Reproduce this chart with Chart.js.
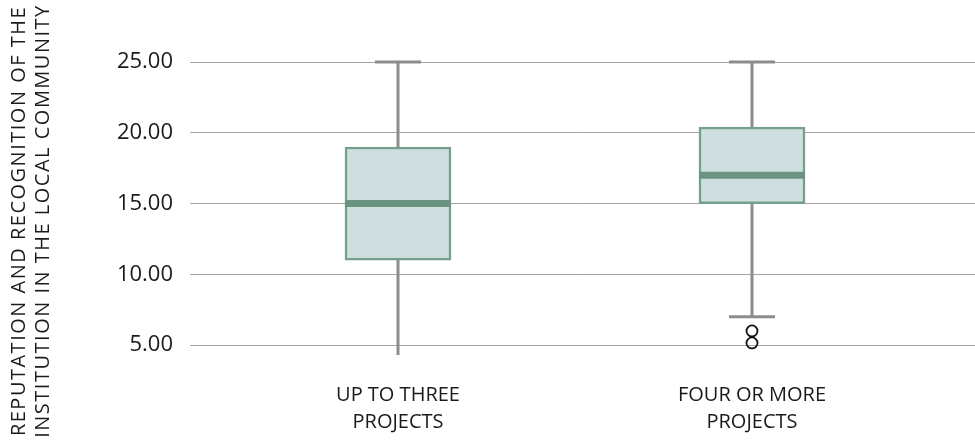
<!DOCTYPE html>
<html>
<head>
<meta charset="utf-8">
<script src="https://cdn.jsdelivr.net/npm/chart.js@4.4.0/dist/chart.umd.min.js"></script>
<style>
  html, body { margin: 0; padding: 0; background: #fff; overflow: hidden; }
  canvas { display: block; }
</style>
</head>
<body>
<canvas id="chartBox" width="975" height="442"></canvas>
<script>
const groups = [['UP TO THREE', 'PROJECTS'], ['FOUR OR MORE', 'PROJECTS']]
const positions = [1, 2]
const mins = [4, 7]
const q1s = [11, 15]
const medians = [15, 17]
const q3s = [19, 20.4]
const maxs = [25, 25]
const outliers = [[], [6, 5.15]]
const yTicks = [5, 10, 15, 20, 25]
const yTitle = ['REPUTATION AND RECOGNITION OF THE', 'INSTITUTION IN THE LOCAL COMMUNITY']

const font = "'Open Sans', sans-serif"

const boxData = positions.map((p, i) => ({ x: p, y: [q1s[i], q3s[i]] }))
const outlierData = []
positions.forEach((p, i) => outliers[i].forEach(v => outlierData.push({ x: p, y: v })))

// whiskers + caps behind the boxes, medians on top
const boxExtras = {
    id: 'boxExtras',
    beforeDatasetsDraw(chart) {
        const ctx = chart.ctx, xs = chart.scales.x, ys = chart.scales.y, a = chart.chartArea
        ctx.save()
        ctx.beginPath()
        ctx.rect(a.left, a.top, a.right - a.left, a.bottom - a.top)
        ctx.clip()
        ctx.strokeStyle = '#8c8c8c'
        ctx.lineWidth = 3
        positions.forEach((p, i) => {
            const x = xs.getPixelForValue(p)
            ctx.beginPath()
            ctx.moveTo(x, ys.getPixelForValue(mins[i]))
            ctx.lineTo(x, ys.getPixelForValue(maxs[i]))
            ctx.stroke()
            ;[mins[i], maxs[i]].forEach(v => {
                const y = ys.getPixelForValue(v)
                ctx.beginPath()
                ctx.moveTo(x - 23, y)
                ctx.lineTo(x + 23, y)
                ctx.stroke()
            })
        })
        ctx.restore()
    },
    afterDatasetsDraw(chart) {
        const ctx = chart.ctx, xs = chart.scales.x, ys = chart.scales.y
        const meta = chart.getDatasetMeta(0)
        ctx.save()
        ctx.strokeStyle = '#6a9480'
        ctx.lineWidth = 7
        positions.forEach((p, i) => {
            const bar = meta.data[i]
            const half = bar.width / 2
            const x = xs.getPixelForValue(p)
            const y = ys.getPixelForValue(medians[i])
            ctx.beginPath()
            ctx.moveTo(x - half, y)
            ctx.lineTo(x + half, y)
            ctx.stroke()
        })
        ctx.restore()
    },
    afterDraw(chart) {
        const ctx = chart.ctx
        ctx.save()
        ctx.translate(0, 221)
        ctx.rotate(-Math.PI / 2)
        ctx.fillStyle = '#1a1a1a'
        ctx.font = '20px ' + font
        ctx.letterSpacing = '1.5px'
        ctx.textAlign = 'center'
        ctx.textBaseline = 'middle'
        ctx.fillText(yTitle[0], 0, 19)
        ctx.fillText(yTitle[1], 0, 43)
        ctx.restore()
    }
}

new Chart(document.getElementById('chartBox'), {
    type: 'bar',
    data: {
        datasets: [{
            type: 'bar',
            data: boxData,
            backgroundColor: '#cfdfdf',
            borderColor: '#73a08d',
            borderWidth: 2.5,
            borderSkipped: false,
            barThickness: 106
        }, {
            type: 'scatter',
            data: outlierData,
            pointRadius: 5.5,
            pointBackgroundColor: 'rgba(0,0,0,0)',
            pointBorderColor: '#111',
            pointBorderWidth: 1.8
        }]
    },
    options: {
        responsive: false,
        animation: false,
        layout: { autoPadding: false, padding: { top: 55, right: 0, left: 0, bottom: 0 } },
        plugins: { legend: { display: false }, tooltip: { enabled: false } },
        scales: {
            x: {
                type: 'linear',
                offset: false,
                min: 0.4124,
                max: 2.63,
                grid: { display: false },
                border: { display: false },
                afterBuildTicks: s => { s.ticks = positions.map(v => ({ value: v })) },
                afterFit: s => { s.height = 87; s.paddingLeft = 0; s.paddingRight = 0 },
                ticks: {
                    padding: 19,
                    color: '#1a1a1a',
                    font: { family: font, size: 20, lineHeight: 1.35 },
                    callback: v => groups[positions.indexOf(v)]
                }
            },
            y: {
                min: 4.3,
                max: 25.5,
                afterBuildTicks: s => { s.ticks = yTicks.map(v => ({ value: v })) },
                afterFit: s => { s.width = 190 },
                grid: { color: '#a3a3a3', lineWidth: 1, drawTicks: false },
                border: { display: false },
                ticks: {
                    padding: 17,
                    color: '#1a1a1a',
                    font: { family: font, size: 22 },
                    callback: v => v.toFixed(2)
                }
            }
        }
    },
    plugins: [boxExtras]
});
</script>
</body>
</html>
